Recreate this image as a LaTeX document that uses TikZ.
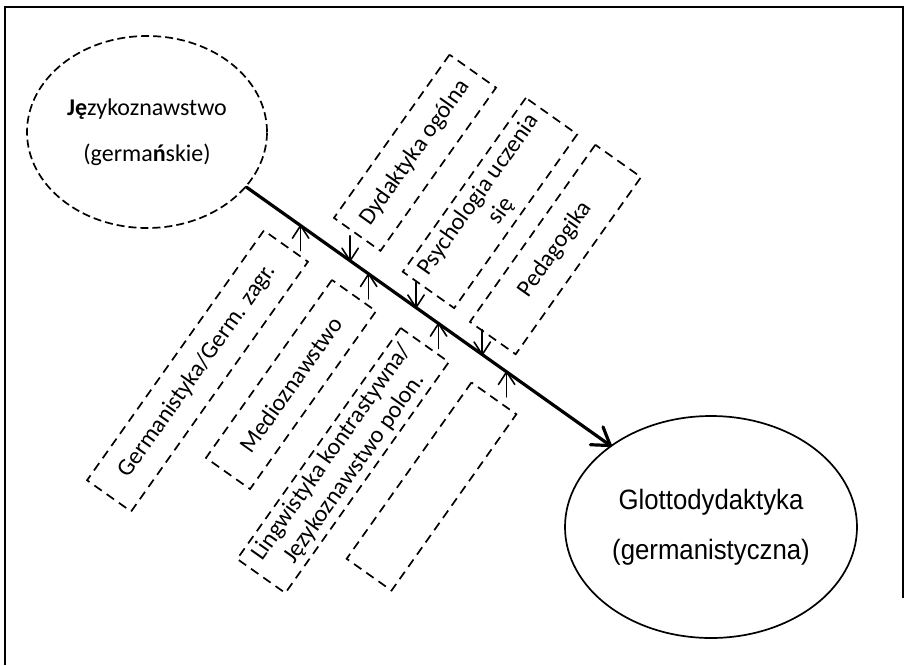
\documentclass[tikz,border=0pt]{standalone}
\usepackage{fontspec}
\setmainfont{Carlito}
\newfontfamily\ellfont[FakeStretch=0.92]{Liberation Sans}
\usetikzlibrary{shapes.geometric,calc}

\begin{document}
\begin{tikzpicture}[x=1pt,y=1pt,
  frameline/.style={line width=2pt},
  field/.style={draw, line width=1.7pt, dash pattern=on 9pt off 6pt,
    rotate=54.7, inner sep=0pt, align=center,
    font=\fontsize{24}{28}\selectfont},
  source/.style={ellipse, draw, line width=1.7pt, dash pattern=on 8pt off 4pt,
    minimum width=240pt, minimum height=192pt, inner sep=0pt, align=center,
    font=\fontsize{24}{46}\selectfont},
  target/.style={ellipse, draw, line width=1.7pt,
    minimum width=292pt, minimum height=222pt, inner sep=0pt, align=center,
    font=\ellfont\fontsize{28}{50}\selectfont},
  mainline/.style={line width=3.2pt, line cap=round, line join=round},
  feedline/.style={line width=1.6pt, line cap=round, line join=round}
]
\useasboundingbox (0,0) rectangle (908,-665);

% frame
\draw[frameline] (5,-665) -- (5,-7) -- (903,-7) -- (903,-598);

% source and target disciplines
\node[source] (L) at (147,-132) {\textbf{Ję}zykoznawstwo\\(germa\textbf{ń}skie)};
\node[target] (R) at (711,-527) {Glottodydaktyka\\(germanistyczna)};

% main axis with an open barbed head
\draw[mainline] (L.-29) -- (R.141);
\draw[mainline] ($(R.141)!20pt!33:(L.-29)$) -- (R.141) -- ($(R.141)!20pt!-33:(L.-29)$);

% points where the feeding fields meet the axis
\path (L.-29) -- (R.141)
  coordinate[pos=0.149] (u1) coordinate[pos=0.336] (u2)
  coordinate[pos=0.528] (u3) coordinate[pos=0.715] (u4)
  coordinate[pos=0.285] (d1) coordinate[pos=0.466] (d2)
  coordinate[pos=0.648] (d3);

% fields below the axis
\node[field, minimum width=306pt, minimum height=54pt] (germ) at (197.5,-371) {Germanistyka/Germ. zagr.};
\node[field, minimum width=218pt, minimum height=54pt] (medio) at (291,-384.5) {Medioznawstwo};
\node[field, minimum width=283pt, minimum height=59pt] (ling) at (343,-460.5) {Lingwistyka kontrastywna/\\Językoznawstwo polon.};
\node[field, minimum width=216pt, minimum height=55pt] (empty) at (431.5,-486.5) {};

% fields above the axis
\node[field, minimum width=200pt, minimum height=57pt] (dyd) at (415,-152.75) {Dydaktyka ogólna};
\node[field, minimum width=213pt, minimum height=63pt] (psych) at (490,-203) {Psychologia uczenia\\się};
\node[field, minimum width=217pt, minimum height=56pt] (ped) at (555.5,-249.5) {Pedagogika};

% arrow tails on the box edges
\coordinate (ut1) at ($(u1)+(0,-25)$);
\coordinate (ut2) at ($(u2)+(0,-25)$);
\coordinate (ut3) at ($(u3)+(0,-25)$);
\coordinate (ut4) at ($(u4)+(0,-25)$);
\coordinate (dt1) at ($(d1)+(0,25)$);
\coordinate (dt2) at ($(d2)+(0,25)$);
\coordinate (dt3) at ($(d3)+(0,25)$);

% feeding arrows: stem plus open barbed head
\foreach \t/\h in {ut1/u1, ut2/u2, ut3/u3, ut4/u4, dt1/d1, dt2/d2, dt3/d3}{
  \draw[feedline] (\t) -- (\h);
  \draw[feedline] ($(\h)!15pt!33:(\t)$) -- (\h) -- ($(\h)!15pt!-33:(\t)$);
}
\end{tikzpicture}
\end{document}
